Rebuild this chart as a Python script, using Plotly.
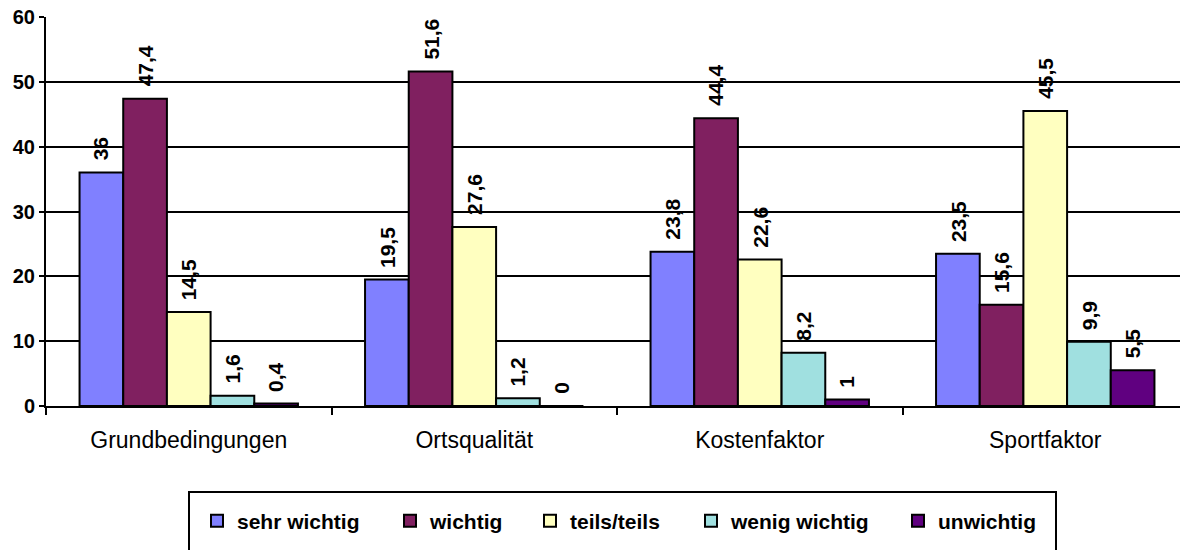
import plotly.graph_objects as go

# Survey results: importance ratings (percent) per location factor
categories = ["Grundbedingungen", "Ortsqualität", "Kostenfaktor", "Sportfaktor"]
series_names = ["sehr wichtig", "wichtig", "teils/teils", "wenig wichtig", "unwichtig"]
sehr_wichtig = [36, 19.5, 23.8, 23.5]
wichtig = [47.4, 51.6, 44.4, 15.6]
teils_teils = [14.5, 27.6, 22.6, 45.5]
wenig_wichtig = [1.6, 1.2, 8.2, 9.9]
unwichtig = [0.4, 0, 1, 5.5]
y_ticks = [0, 10, 20, 30, 40, 50, 60]

series_values = [sehr_wichtig, wichtig, teils_teils, wenig_wichtig, unwichtig]
colors = ["#8080FF", "#802060", "#FFFFC0", "#A0E0E0", "#600080"]

FONT = "Liberation Sans, Arial, sans-serif"
W, H = 1180, 550
ML, MR, MT, MB = 46, 0, 17, 144
PW, PH = W - ML - MR, H - MT - MB
BARGAP = 0.235
n_series = len(series_names)
bar_w = (1 - BARGAP) / n_series
LABEL_SIZE = 21
LABEL_GAP = 12


def px_x(px):
    return (px - ML) / PW


def px_y(py):
    return (H - MB - py) / PH


def fmt(v):
    if float(v).is_integer():
        return str(int(v))
    return f"{v:.1f}".replace(".", ",")


def text_len(s, size):
    # advance width of a bold sans label made of digits and commas
    return size * sum(0.278 if ch == "," else 0.556 for ch in s)


fig = go.Figure()
annotations = []
for i, (name, vals, col) in enumerate(zip(series_names, series_values, colors)):
    fig.add_trace(go.Bar(
        x=categories, y=vals, name=name,
        marker=dict(color=col, line=dict(color="black", width=2)),
        legend="legend" if i == 0 else f"legend{i + 1}",
    ))
    offset = (i - (n_series - 1) / 2) * bar_w
    for ci, v in enumerate(vals):
        label = fmt(v)
        annotations.append(dict(
            x=ci + offset, y=v, xref="x", yref="y",
            text=f"<b>{label}</b>", showarrow=False, textangle=-90,
            xanchor="center", yanchor="middle",
            yshift=LABEL_GAP + text_len(label, LABEL_SIZE) / 2,
            font=dict(family=FONT, size=LABEL_SIZE, color="black"),
        ))

# one legend per series, laid out in a row inside a framed box
legend_text_left = [237, 430, 570, 731, 938]
legend_cfg = {}
for i, tx in enumerate(legend_text_left):
    key = "legend" if i == 0 else f"legend{i + 1}"
    legend_cfg[key] = dict(
        x=px_x(tx - 40), y=px_y(521), xanchor="left", yanchor="middle",
        orientation="h", bgcolor="rgba(0,0,0,0)", borderwidth=0,
        itemwidth=30, itemclick=False, itemdoubleclick=False,
        font=dict(family=FONT, size=21, color="black", weight="bold"),
    )

fig.update_layout(
    width=W, height=H,
    margin=dict(l=ML, r=MR, t=MT, b=MB, pad=0),
    paper_bgcolor="white", plot_bgcolor="white",
    barmode="group", bargap=BARGAP, bargroupgap=0,
    showlegend=True,
    annotations=annotations,
    shapes=[dict(
        type="rect", xref="paper", yref="paper",
        x0=px_x(189), x1=px_x(1056), y0=px_y(560), y1=px_y(492),
        line=dict(color="black", width=2), fillcolor="rgba(0,0,0,0)",
        layer="below",
    )],
    **legend_cfg,
)

fig.update_xaxes(
    type="category", range=[-0.5, -0.5 + PW / 285.5],
    showline=True, linecolor="black", linewidth=2,
    ticks="outside", tickson="boundaries", ticklen=7, tickwidth=2, tickcolor="black",
    ticklabelstandoff=12,
    tickfont=dict(family=FONT, size=23, color="black"),
    showgrid=False, zeroline=False,
)
fig.update_yaxes(
    range=[0, 60], tickvals=y_ticks,
    showline=True, linecolor="black", linewidth=2,
    ticks="outside", ticklen=5, tickwidth=2, tickcolor="black",
    showgrid=True, gridcolor="black", gridwidth=2,
    zeroline=False,
    tickfont=dict(family=FONT, size=20, color="black", weight="bold"),
)

fig.write_html("out.html")
